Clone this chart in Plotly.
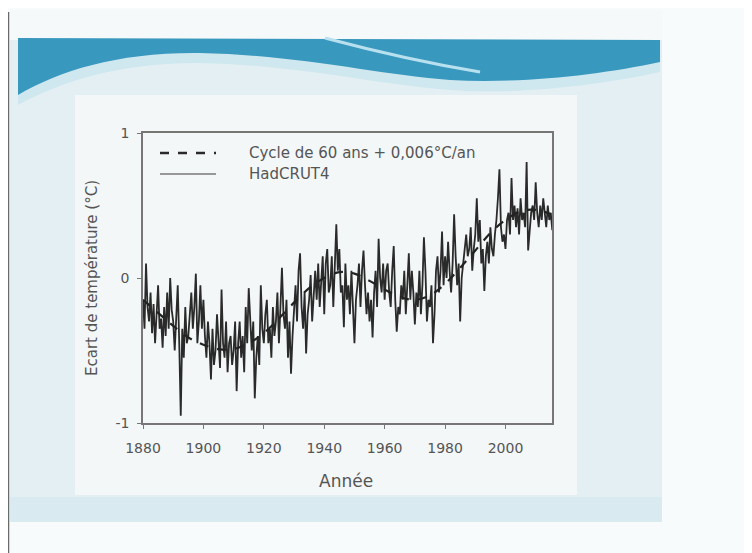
import plotly.graph_objects as go

# ---------------- data ----------------
start_year = 1880
hadcrut4 = [
    # 1880s (two readings per year)
    -0.15, -0.35, 0.10, -0.20, -0.30, -0.10, -0.38, -0.18, -0.45, -0.25,
    -0.05, -0.35, -0.28, -0.48, -0.20, -0.40, -0.10, -0.35, 0.00, -0.22,
    # 1890s
    -0.30, -0.50, -0.25, -0.05, -0.45, -0.95, -0.35, -0.55, -0.20, -0.45,
    -0.40, -0.25, -0.10, -0.35, -0.20, 0.03, -0.45, -0.30, -0.05, -0.35,
    # 1900s
    -0.15, -0.40, -0.55, -0.30, -0.45, -0.70, -0.35, -0.60, -0.50, -0.25,
    -0.40, -0.62, -0.08, -0.45, -0.55, -0.30, -0.65, -0.45, -0.40, -0.60,
    # 1910s
    -0.50, -0.30, -0.78, -0.45, -0.30, -0.55, -0.40, -0.65, -0.20, -0.45,
    -0.07, -0.35, -0.50, -0.30, -0.83, -0.55, -0.40, -0.60, -0.05, -0.35,
    # 1920s
    -0.45, -0.25, -0.15, -0.45, -0.35, -0.55, -0.20, -0.40, -0.30, -0.10,
    -0.45, -0.20, 0.07, -0.25, -0.35, -0.15, -0.55, -0.30, -0.66, -0.40,
    # 1930s
    -0.20, -0.05, -0.30, 0.05, 0.17, -0.20, -0.35, -0.10, -0.52, -0.25,
    -0.15, 0.02, -0.30, -0.10, 0.05, -0.15, 0.10, -0.20, -0.05, 0.15,
    # 1940s
    -0.25, 0.10, 0.20, -0.10, -0.05, 0.15, -0.20, 0.10, 0.37, 0.05,
    0.20, -0.10, -0.05, -0.34, 0.10, -0.15, -0.05, -0.25, 0.05, -0.20,
    # 1950s
    -0.45, -0.15, -0.05, 0.10, -0.20, 0.05, 0.19, -0.05, -0.25, -0.10,
    -0.30, -0.15, -0.41, -0.10, 0.05, -0.20, 0.27, 0.00, -0.10, 0.10,
    # 1960s
    -0.15, 0.05, 0.10, -0.10, -0.20, 0.05, 0.22, -0.15, -0.37, -0.20,
    -0.25, -0.05, -0.15, 0.05, -0.25, -0.05, 0.17, -0.15, 0.05, -0.10,
    # 1970s
    -0.32, -0.10, -0.20, 0.05, -0.25, -0.05, 0.28, 0.05, -0.30, -0.15,
    -0.20, -0.05, -0.45, -0.25, 0.05, 0.15, -0.10, 0.05, 0.32, -0.05,
    # 1980s
    0.15, 0.00, 0.25, 0.05, -0.10, 0.10, 0.44, 0.15, -0.05, 0.10,
    -0.30, 0.00, 0.10, 0.20, 0.30, 0.15, 0.20, 0.35, 0.05, 0.20,
    # 1990s
    0.30, 0.55, 0.25, 0.40, 0.10, 0.20, -0.09, 0.15, 0.25, 0.10,
    0.35, 0.20, 0.15, 0.30, 0.40, 0.55, 0.75, 0.35, 0.25, 0.30,
    # 2000s
    0.20, 0.40, 0.45, 0.30, 0.69, 0.40, 0.50, 0.35, 0.48, 0.30,
    0.55, 0.40, 0.45, 0.35, 0.80, 0.19, 0.30, 0.45, 0.50, 0.40,
    # 2010s
    0.66, 0.45, 0.35, 0.50, 0.40, 0.55, 0.45, 0.35, 0.50, 0.40,
    0.45, 0.33,
]
hadcrut4_years = [start_year + i * 0.5 for i in range(len(hadcrut4))]

cycle_years = [1880, 1885, 1890, 1895, 1900, 1905, 1910, 1915, 1920, 1925,
               1930, 1935, 1940, 1945, 1950, 1955, 1960, 1965, 1970, 1975,
               1980, 1985, 1990, 1995, 2000, 2005, 2010, 2015]
cycle_values = [-0.15, -0.24, -0.33, -0.41, -0.46, -0.49, -0.49, -0.45, -0.38, -0.28,
                -0.17, -0.07, 0.00, 0.04, 0.03, -0.02, -0.08, -0.13, -0.15, -0.12,
                -0.04, 0.07, 0.19, 0.31, 0.40, 0.46, 0.47, 0.44]

x_ticks = [1880, 1900, 1920, 1940, 1960, 1980, 2000]
y_ticks = [-1, 0, 1]
y_tick_labels = ["-1", "0", "1"]
legend_labels = ["Cycle de 60 ans + 0,006°C/an", "HadCRUT4"]

# ---------------- layout helpers ----------------
# The page body has an 8px margin, so the figure is drawn 8px in from the window corner.
OFF = 8
WIN_W, WIN_H = 752, 553
W, H = WIN_W - OFF, WIN_H - OFF
# plot frame in window pixels
L, R, T, B = 143, 552, 133, 423


def px(x):
    return (x - L) / (R - L)


def py(y):
    return (B - y) / (B - T)


def path(cmds):
    out = []
    for c in cmds:
        if isinstance(c, str):
            out.append(c)
        else:
            out.append(f"{px(c[0]):.4f},{py(c[1]):.4f}")
    return " ".join(out)


FONT = "DejaVu Sans, Verdana, sans-serif"
TXT = "#555555"

fig = go.Figure()
fig.add_trace(go.Scatter(
    x=hadcrut4_years, y=hadcrut4, mode="lines",
    line=dict(color="#2a2a2a", width=1.8), name=legend_labels[1], showlegend=False))
fig.add_trace(go.Scatter(
    x=cycle_years, y=cycle_values, mode="lines", line_shape="spline",
    line=dict(color="#222222", width=2.2, dash="dash"), name=legend_labels[0], showlegend=False))

shapes = []
# slide page
shapes.append(dict(type="rect", xref="paper", yref="paper", x0=px(10), x1=px(662), y0=py(10), y1=py(522),
                   fillcolor="#e3eff3", line=dict(width=0), layer="below"))
shapes.append(dict(type="rect", xref="paper", yref="paper", x0=px(10), x1=px(662), y0=py(10), y1=py(40),
                   fillcolor="#f5f9f9", line=dict(width=0), layer="below"))
shapes.append(dict(type="rect", xref="paper", yref="paper", x0=px(10), x1=px(662), y0=py(497), y1=py(522),
                   fillcolor="#d9eaf0", line=dict(width=0), layer="below"))
# chart panel
shapes.append(dict(type="rect", xref="paper", yref="paper", x0=px(75), x1=px(577), y0=py(95), y1=py(495),
                   fillcolor="#f3f7f8", line=dict(width=0), layer="below"))
# banner (pale band under the teal wave)
shapes.append(dict(type="path", xref="paper", yref="paper", layer="below",
                   path=path(["M", (18, 40), "L", (660, 40), "L", (660, 72),
                              "C", (600, 85), (520, 95), (450, 90),
                              "C", (380, 85), (300, 65), (200, 63),
                              "C", (120, 62), (60, 82), (18, 105), "Z"]),
                   fillcolor="#cfe7ef", line=dict(width=0)))
# teal wave
shapes.append(dict(type="path", xref="paper", yref="paper", layer="below",
                   path=path(["M", (18, 38), "L", (660, 40), "L", (660, 62),
                              "C", (600, 75), (520, 84), (450, 80),
                              "C", (380, 75), (300, 55), (200, 53),
                              "C", (120, 52), (60, 70), (18, 95), "Z"]),
                   fillcolor="#3898be", line=dict(width=0)))
# light diagonal stripe in the banner
shapes.append(dict(type="path", xref="paper", yref="paper", layer="below",
                   path=path(["M", (325, 38), "C", (370, 50), (420, 62), (480, 72)]),
                   line=dict(color="#b8e0ee", width=3)))
# left dark border of the slide
shapes.append(dict(type="line", xref="paper", yref="paper", x0=px(8.5), x1=px(8.5), y0=py(12), y1=py(553),
                   line=dict(color="#6a6a6a", width=1.5), layer="below"))

# custom legend
shapes.append(dict(type="line", xref="paper", yref="paper", x0=px(160), x1=px(216), y0=py(153), y1=py(153),
                   line=dict(color="#2a2a2a", width=2.5, dash="dash")))
shapes.append(dict(type="line", xref="paper", yref="paper", x0=px(160), x1=px(216), y0=py(174), y1=py(174),
                   line=dict(color="#3a3a3a", width=1.2)))

annotations = [
    dict(text=legend_labels[0], x=px(247), y=py(153), xref="paper", yref="paper",
         xanchor="left", yanchor="middle", showarrow=False, font=dict(family=FONT, size=15, color=TXT)),
    dict(text=legend_labels[1], x=px(247), y=py(174), xref="paper", yref="paper",
         xanchor="left", yanchor="middle", showarrow=False, font=dict(family=FONT, size=15, color=TXT)),
    dict(text="Ecart de température (°C)", x=px(92), y=py(278), xref="paper", yref="paper",
         textangle=-90, xanchor="center", yanchor="middle", showarrow=False,
         font=dict(family=FONT, size=15, color=TXT)),
    dict(text="Année", x=px(346), y=py(481), xref="paper", yref="paper",
         xanchor="center", yanchor="middle", showarrow=False,
         font=dict(family=FONT, size=17, color=TXT)),
]

fig.update_layout(
    width=W, height=H,
    margin=dict(l=L - OFF, r=W - (R - OFF), t=T - OFF, b=H - (B - OFF), pad=0),
    paper_bgcolor="#f8fbfb",
    plot_bgcolor="#f6f9f9",
    shapes=shapes,
    annotations=annotations,
    showlegend=False,
    font=dict(family=FONT, color=TXT),
)
fig.update_xaxes(range=[1880, 2015.4], tickmode="array", tickvals=x_ticks,
                 ticks="outside", ticklen=4, tickcolor="#777", tickwidth=1.2,
                 showline=True, linecolor="#777", linewidth=1.6, mirror=True,
                 showgrid=False, zeroline=False, ticklabelstandoff=7,
                 tickfont=dict(family=FONT, size=14, color=TXT))
fig.update_yaxes(range=[-1, 1], tickmode="array", tickvals=y_ticks, ticktext=y_tick_labels,
                 ticks="outside", ticklen=4, tickcolor="#777", tickwidth=1.2,
                 showline=True, linecolor="#777", linewidth=1.6, mirror=True,
                 showgrid=False, zeroline=False, ticklabelstandoff=5,
                 tickfont=dict(family=FONT, size=14, color=TXT))

fig.write_html("out.html")
